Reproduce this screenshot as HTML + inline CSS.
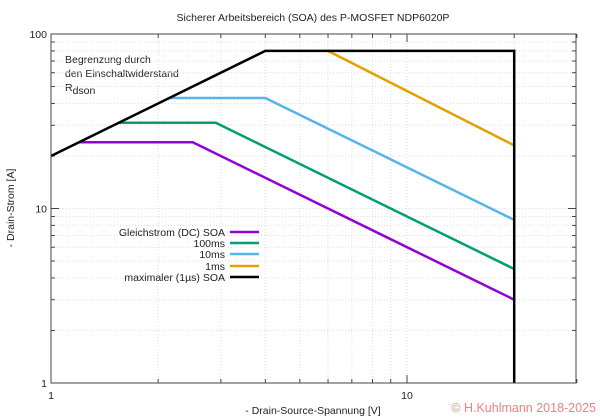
<!DOCTYPE html>
<html><head><meta charset="utf-8"><style>
body{margin:0;background:#fff}
svg{display:block;font-family:"Liberation Sans","DejaVu Sans",sans-serif}
</style></head><body>
<svg id="s" width="600" height="420" xmlns="http://www.w3.org/2000/svg">
<text x="313" y="21" font-size="10.5" text-anchor="middle" fill="#222">Sicherer Arbeitsbereich (SOA) des P-MOSFET NDP6020P</text>
<text x="313" y="414" font-size="10.5" text-anchor="middle" fill="#222">- Drain-Source-Spannung [V]</text>
<text x="14" y="208" font-size="10.5" text-anchor="middle" fill="#222" transform="rotate(-90 14 208)">- Drain-Strom [A]</text>
<text x="596" y="412" font-size="12.5" text-anchor="end" fill="#f08080">© H.Kuhlmann 2018-2025</text>
<text x="65" y="63" font-size="10.5" fill="#222">Begrenzung durch</text>
<text x="65" y="77" font-size="10.5" fill="#222">den Einschaltwiderstand</text>
<text x="65" y="91" font-size="10.5" fill="#222">R<tspan dy="3">dson</tspan></text>
<g id="g"></g>
<g font-size="10.5" fill="#222" text-anchor="end">
<text x="225" y="236">Gleichstrom (DC) SOA</text>
<text x="225" y="247">100ms</text>
<text x="225" y="258">10ms</text>
<text x="225" y="270">1ms</text>
<text x="225" y="281">maximaler (1µs) SOA</text>
</g>
<g stroke-width="2.5">
<line x1="230" y1="232" x2="259" y2="232" stroke="#9400d3"/>
<line x1="230" y1="243" x2="259" y2="243" stroke="#009e73"/>
<line x1="230" y1="254" x2="259" y2="254" stroke="#56b4e9"/>
<line x1="230" y1="266" x2="259" y2="266" stroke="#e69f00"/>
<line x1="230" y1="277" x2="259" y2="277" stroke="#000"/>
</g>
</svg>
<script>
const L=51,R=576,T=34,B=383,DX=356,DY=174.5;
const X=v=>L+DX*Math.log10(v),Y=i=>B-DY*Math.log10(i);
let h='';
for(const v of [2,3,4,5,6,7,8,9,20,30]){const x=X(v);if(x<R-1)h+=`<line x1="${x}" y1="${T}" x2="${x}" y2="${B}" stroke="#ddd" stroke-dasharray="1,2"/>`;
 h+=`<line x1="${x}" y1="${B}" x2="${x}" y2="${B-4}" stroke="#444"/><line x1="${x}" y1="${T}" x2="${x}" y2="${T+4}" stroke="#444"/>`;}
for(const i of [2,3,4,5,6,7,8,9,20,30,40,50,60,70,80,90]){const y=Y(i);h+=`<line x1="${L}" y1="${y}" x2="${R}" y2="${y}" stroke="#ddd" stroke-dasharray="1,2"/><line x1="${L}" y1="${y}" x2="${L+4}" y2="${y}" stroke="#444"/><line x1="${R}" y1="${y}" x2="${R-4}" y2="${y}" stroke="#444"/>`;}
for(const v of [10]){const x=X(v);h+=`<line x1="${x}" y1="${T}" x2="${x}" y2="${B}" stroke="#ddd" stroke-dasharray="1,2"/><line x1="${x}" y1="${B}" x2="${x}" y2="${B-8}" stroke="#444"/><line x1="${x}" y1="${T}" x2="${x}" y2="${T+8}" stroke="#444"/>`;}
h+=`<line x1="${L}" y1="${Y(10)}" x2="${R}" y2="${Y(10)}" stroke="#ddd" stroke-dasharray="1,2"/><line x1="${L}" y1="${Y(10)}" x2="${L+8}" y2="${Y(10)}" stroke="#444"/><line x1="${R}" y1="${Y(10)}" x2="${R-8}" y2="${Y(10)}" stroke="#444"/>`;
h+=`<g font-size="10.5" fill="#222"><text x="47" y="${T+4}" text-anchor="end">100</text><text x="47" y="${Y(10)+4}" text-anchor="end">10</text><text x="47" y="${B+4}" text-anchor="end">1</text><text x="${X(1)}" y="${B+16}" text-anchor="middle">1</text><text x="${X(10)}" y="${B+16}" text-anchor="middle">10</text></g>`;
function pl(pts,c){return `<polyline fill="none" stroke="${c}" stroke-width="2.5" points="${pts.map(p=>X(p[0]).toFixed(1)+','+Y(p[1]).toFixed(1)).join(' ')}"/>`;}
function soa(i,P,c){const v0=i/20,v1=P/i;return pl([[v0,i],[v1,i],[20,P/20]],c);}
h+=soa(24,60,'#9400d3');h+=soa(31,90,'#009e73');h+=soa(43,172,'#56b4e9');
h+=pl([[6,80],[20,23]],'#e69f00');
h+=pl([[1,20],[4,80],[20,80],[20,1]],'#000');
h+=`<rect x="${L}" y="${T}" width="${R-L}" height="${B-T}" fill="none" stroke="#444"/>`;
document.getElementById('g').innerHTML=h;
</script>
</body></html>
